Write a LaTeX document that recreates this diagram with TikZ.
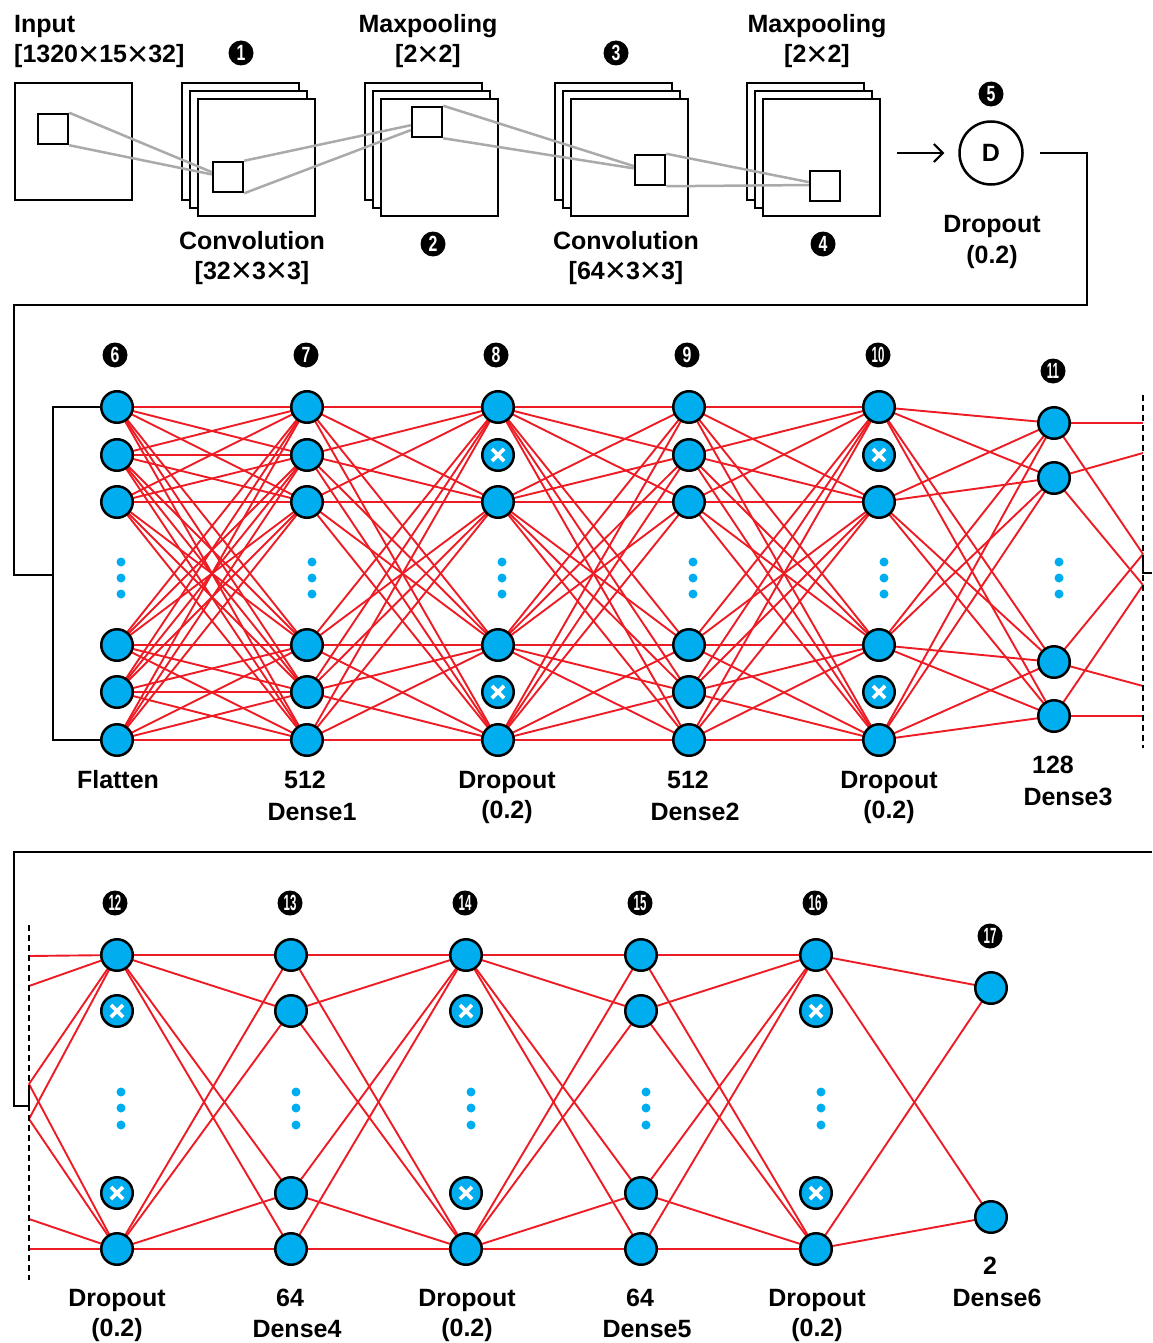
\documentclass[tikz,border=0pt]{standalone}
\usepackage{fontspec}
\setmainfont{Liberation Sans}
\usepackage{graphicx}
\usetikzlibrary{arrows.meta,calc,backgrounds}
\definecolor{ncyan}{RGB}{0,174,239}
\definecolor{nred}{RGB}{237,28,36}
\definecolor{lgray}{RGB}{170,170,170}
\newcommand{\tms}{\raisebox{-0.15em}{\scalebox{1.45}{\mdseries ×}}}
\newcommand{\cnum}[1]{\scalebox{0.72}[1]{#1}}
\newcommand{\cnumm}[1]{\scalebox{0.52}[1]{#1}}
\begin{document}
\begin{tikzpicture}[x=1pt,y=-1pt,
  neuron/.style={circle,draw=black,line width=2.5pt,fill=ncyan,minimum size=31.5pt,inner sep=0pt},
  dropn/.style={neuron,path picture={
      \draw[white,line width=3.6pt] ([xshift=-6pt,yshift=-6pt]path picture bounding box.center) -- ([xshift=6pt,yshift=6pt]path picture bounding box.center);
      \draw[white,line width=3.6pt] ([xshift=-6pt,yshift=6pt]path picture bounding box.center) -- ([xshift=6pt,yshift=-6pt]path picture bounding box.center);}},
  conn/.style={draw=nred,line width=1.9pt},
  blk/.style={draw=black,line width=2.5pt},
  cutline/.style={draw=black,line width=2.5pt,dash pattern=on 6pt off 4pt},
  gline/.style={draw=lgray,line width=2.5pt},
  fmap/.style={draw=black,line width=2.5pt,fill=white,minimum size=117pt,inner sep=0pt},
  fsq/.style={draw=black,line width=2.5pt,minimum size=30pt,inner sep=0pt},
  lbl/.style={font=\bfseries\fontsize{25}{28}\selectfont,anchor=base,inner sep=0pt},
  lblw/.style={lbl,anchor=base west},
  num/.style={circle,fill=black,minimum size=25pt,inner sep=0pt,text=white,font=\bfseries\fontsize{22}{22}\selectfont},
  dot/.style={fill=ncyan}
]
\useasboundingbox (0,0) rectangle (1152,1343);

% ---------------- top row ----------------
\node[fmap] (in0) at (73.5,141.5) {};
\node[fsq] (s0) at (53,129) {};

\node[fmap] (c1a) at (240.5,141.5) {};
\node[fmap] (c1b) at (248.5,149.5) {};
\node[fmap] (c1c) at (256.5,157.5) {};
\node[fsq] (s1) at (228,177) {};

\node[fmap] (p1a) at (423.5,141.5) {};
\node[fmap] (p1b) at (431.5,149.5) {};
\node[fmap] (p1c) at (439.5,157.5) {};
\node[fsq] (s2) at (427,122) {};

\node[fmap] (c2a) at (613.5,141.5) {};
\node[fmap] (c2b) at (621.5,149.5) {};
\node[fmap] (c2c) at (629.5,157.5) {};
\node[fsq] (s3) at (650,170) {};

\node[fmap] (p2a) at (805.5,141.5) {};
\node[fmap] (p2b) at (813.5,149.5) {};
\node[fmap] (p2c) at (821.5,157.5) {};
\node[fsq] (s4) at (825,186) {};

\draw[gline] (s0.north east) -- ($(s1.north west)!0.35!(s1.south west)$);
\draw[gline] (s0.south east) -- ($(s1.north west)!0.42!(s1.south west)$);
\draw[gline] (s1.north east) -- ($(s2.north west)!0.60!(s2.south west)$);
\draw[gline] (s1.south east) -- ($(s2.north west)!0.75!(s2.south west)$);
\draw[gline] (s2.north east) -- ($(s3.north west)!0.38!(s3.south west)$);
\draw[gline] (s2.south east) -- ($(s3.north west)!0.45!(s3.south west)$);
\draw[gline] (s3.north east) -- ($(s4.north west)!0.38!(s4.south west)$);
\draw[gline] (s3.south east) -- ($(s4.north west)!0.47!(s4.south west)$);

\node[circle,draw=black,line width=2.5pt,minimum size=63pt,inner sep=0pt,font=\bfseries\fontsize{25}{28}\selectfont] (D) at (991,153) {D};
\coordinate (arr0) at (897,153);
\draw[blk,line width=2pt,-{Straight Barb[length=9pt,width=18pt,line width=2pt]}] (arr0) -- ([xshift=-14pt]D.west);

\node[lblw] (tin1) at (14,33) {Input};
\node[lblw] (tin2) at (14,63) {[1320\tms15\tms32]};
\node[lbl] (tp1a) at (428,33) {Maxpooling};
\node[lbl] (tp1b) at (428,63) {[2\tms2]};
\node[lbl] (tp2a) at (817,33) {Maxpooling};
\node[lbl] (tp2b) at (817,63) {[2\tms2]};
\node[lbl] (tc1a) at (252,249) {Convolution};
\node[lbl] (tc1b) at (252,279) {[32\tms3\tms3]};
\node[lbl] (tc2a) at (626,249) {Convolution};
\node[lbl] (tc2b) at (626,279) {[64\tms3\tms3]};
\node[lbl] (tda) at (992,233) {Dropout};
\node[lbl] (tdb) at (992,263) {(0.2)};

\node[num] (n1) at (241,53) {\cnum{1}};
\node[num] (n2) at (433,244) {\cnum{2}};
\node[num] (n3) at (616,53) {\cnum{3}};
\node[num] (n4) at (823,244) {\cnum{4}};
\node[num] (n5) at (991,94) {\cnum{5}};

% connector from D to flatten
\coordinate (k1) at (1087,153);
\coordinate (k2) at (1087,305);
\coordinate (k3) at (14,305);
\coordinate (k4) at (14,575);
\coordinate (k5) at (53,575);
\draw[blk] ([xshift=16pt]D.east) -- (k1) -- (k2) -- (k3) -- (k4) -- (k5);

% ---------------- middle row ----------------
\foreach \L/\x in {6/117,7/307,9/689} {
  \foreach \i/\y in {1/407,2/455,3/502,4/645,5/692,6/740}
    \node[neuron] (m\L-\i) at (\x,\y) {};
}
\foreach \L/\x in {8/498,10/879} {
  \foreach \i/\y in {1/407,3/502,4/645,6/740}
    \node[neuron] (m\L-\i) at (\x,\y) {};
  \foreach \i/\y in {2/455,5/692}
    \node[dropn] (m\L-\i) at (\x,\y) {};
}
\foreach \i/\y in {1/423,2/478,3/662,4/716}
  \node[neuron] (m11-\i) at (1054,\y) {};

\foreach \x in {121,312,502,693,884,1059}
  \foreach \y in {562,578,594}
    \fill[dot] (\x,\y) circle (4.5pt);

\coordinate (cr1) at (1143,423);
\coordinate (cr2) at (1143,453);
\coordinate (cr3) at (1143,554);
\coordinate (cr4) at (1143,585);
\coordinate (cr5) at (1143,686);
\coordinate (cr6) at (1143,716);

\begin{scope}[on background layer]
\foreach \i in {1,...,6} \foreach \j in {1,...,6} \draw[conn] (m6-\i.center) -- (m7-\j.center);
\foreach \i in {1,...,6} \foreach \j in {1,3,4,6} \draw[conn] (m7-\i.center) -- (m8-\j.center);
\foreach \i in {1,3,4,6} \foreach \j in {1,...,6} \draw[conn] (m8-\i.center) -- (m9-\j.center);
\foreach \i in {1,...,6} \foreach \j in {1,3,4,6} \draw[conn] (m9-\i.center) -- (m10-\j.center);
\foreach \i in {1,3,4,6} \foreach \j in {1,...,4} \draw[conn] (m10-\i.center) -- (m11-\j.center);
\foreach \i/\a/\b in {1/1/3,2/2/4,3/3/5,4/4/6} {
  \draw[conn] (m11-\i.center) -- (cr\a);
  \draw[conn] (m11-\i.center) -- (cr\b);
}
\end{scope}

% bracket into flatten
\coordinate (bk1) at (53,407);
\coordinate (bk2) at (53,740);
\draw[blk] (m6-1.west) -- (bk1) -- (bk2) -- (m6-6.west);

% right cut line
\coordinate (cut1) at (1143,395);
\coordinate (cut2) at (1143,748);
\draw[cutline] (cut1) -- (cut2);
\coordinate (ex1) at (1152,573);
\coordinate (ex2) at (1143,573);
\coordinate (ex3) at (1143,557);
\draw[blk] (ex1) -- (ex2) -- (ex3);

\node[num] (n6) at (115,355) {\cnum{6}};
\node[num] (n7) at (306,355) {\cnum{7}};
\node[num] (n8) at (496,355) {\cnum{8}};
\node[num] (n9) at (687,355) {\cnum{9}};
\node[num] (n10) at (878,355) {\cnumm{10}};
\node[num] (n11) at (1053,371) {\cnumm{11}};

\node[lbl] (l6) at (118,788) {Flatten};
\node[lbl] (l7a) at (305,788) {512};
\node[lbl] (l7b) at (312,820) {Dense1};
\node[lbl] (l8a) at (507,788) {Dropout};
\node[lbl] (l8b) at (507,818) {(0.2)};
\node[lbl] (l9a) at (688,788) {512};
\node[lbl] (l9b) at (695,820) {Dense2};
\node[lbl] (l10a) at (889,788) {Dropout};
\node[lbl] (l10b) at (889,818) {(0.2)};
\node[lbl] (l11a) at (1053,773) {128};
\node[lbl] (l11b) at (1068,805) {Dense3};

% ---------------- bottom row ----------------
\coordinate (q1) at (1152,852);
\coordinate (q2) at (14,852);
\coordinate (q3) at (14,1106);
\coordinate (q4) at (29,1106);
\coordinate (q5) at (29,1090);
\draw[blk] (q1) -- (q2) -- (q3) -- (q4) -- (q5);
\coordinate (cut3) at (29,925);
\coordinate (cut4) at (29,1280);
\draw[cutline] (cut3) -- (cut4);

\foreach \L/\x in {13/291,15/641} {
  \foreach \i/\y in {1/955,2/1011,3/1193,4/1249}
    \node[neuron] (b\L-\i) at (\x,\y) {};
}
\foreach \L/\x in {12/117,14/466,16/816} {
  \foreach \i/\y in {1/955,4/1249}
    \node[neuron] (b\L-\i) at (\x,\y) {};
  \foreach \i/\y in {2/1011,3/1193}
    \node[dropn] (b\L-\i) at (\x,\y) {};
}
\node[neuron] (b17-1) at (991,988) {};
\node[neuron] (b17-2) at (991,1217) {};

\foreach \x in {121,296,471,646,821}
  \foreach \y in {1092,1108,1125}
    \fill[dot] (\x,\y) circle (4.5pt);

\coordinate (cl1) at (29,956);
\coordinate (cl2) at (29,986);
\coordinate (cl3) at (29,1084);
\coordinate (cl4) at (29,1119);
\coordinate (cl5) at (29,1219);
\coordinate (cl6) at (29,1249);

\begin{scope}[on background layer]
\foreach \a/\b in {1/1,2/1,3/1,4/1,3/4,4/4,5/4,6/4} \draw[conn] (cl\a) -- (b12-\b.center);
\foreach \i in {1,4} \foreach \j in {1,...,4} \draw[conn] (b12-\i.center) -- (b13-\j.center);
\foreach \i in {1,...,4} \foreach \j in {1,4} \draw[conn] (b13-\i.center) -- (b14-\j.center);
\foreach \i in {1,4} \foreach \j in {1,...,4} \draw[conn] (b14-\i.center) -- (b15-\j.center);
\foreach \i in {1,...,4} \foreach \j in {1,4} \draw[conn] (b15-\i.center) -- (b16-\j.center);
\foreach \i in {1,4} \foreach \j in {1,2} \draw[conn] (b16-\i.center) -- (b17-\j.center);
\end{scope}

\node[num] (n12) at (115,903) {\cnumm{12}};
\node[num] (n13) at (290,903) {\cnumm{13}};
\node[num] (n14) at (465,903) {\cnumm{14}};
\node[num] (n15) at (640,903) {\cnumm{15}};
\node[num] (n16) at (815,903) {\cnumm{16}};
\node[num] (n17) at (990,936) {\cnumm{17}};

\node[lbl] (l12a) at (117,1306) {Dropout};
\node[lbl] (l12b) at (117,1336) {(0.2)};
\node[lbl] (l13a) at (290,1306) {64};
\node[lbl] (l13b) at (297,1337) {Dense4};
\node[lbl] (l14a) at (467,1306) {Dropout};
\node[lbl] (l14b) at (467,1336) {(0.2)};
\node[lbl] (l15a) at (640,1306) {64};
\node[lbl] (l15b) at (647,1337) {Dense5};
\node[lbl] (l16a) at (817,1306) {Dropout};
\node[lbl] (l16b) at (817,1336) {(0.2)};
\node[lbl] (l17a) at (990,1274) {2};
\node[lbl] (l17b) at (997,1306) {Dense6};
\end{tikzpicture}
\end{document}
